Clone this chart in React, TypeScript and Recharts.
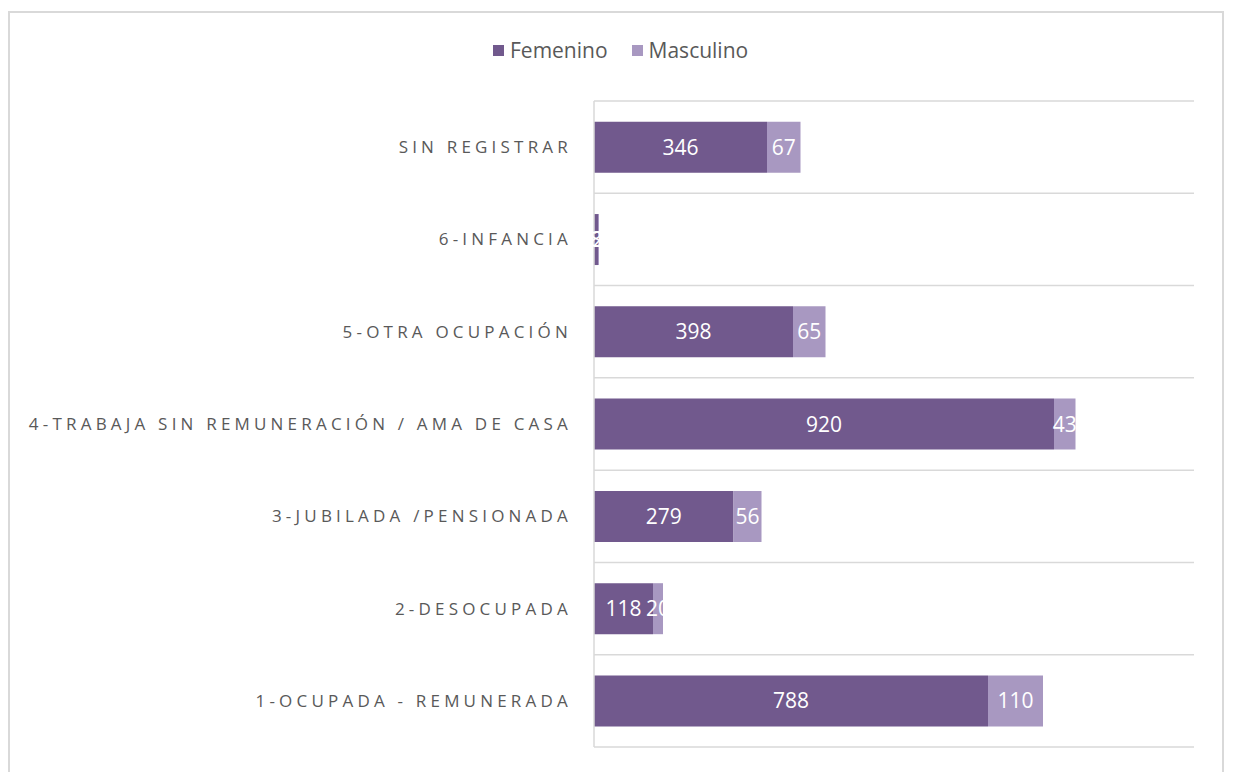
import { BarChart, Bar, XAxis, YAxis, CartesianGrid, LabelList } from "recharts";

const categories = [
  "SIN REGISTRAR",
  "6-INFANCIA",
  "5-OTRA OCUPACIÓN",
  "4-TRABAJA SIN REMUNERACIÓN / AMA DE CASA",
  "3-JUBILADA /PENSIONADA",
  "2-DESOCUPADA",
  "1-OCUPADA - REMUNERADA",
];
const femenino = [346, 8, 398, 920, 279, 118, 788];
const masculino = [67, 2, 65, 43, 56, 20, 110];
const seriesNames = ["Femenino", "Masculino"];
const seriesColors = ["#71598D", "#A898C1"];

const FONT = "'Open Sans', 'Liberation Sans', sans-serif";

const CategoryTick = (props: any) => {
  const { x, y, payload } = props;
  return (
    <text
      x={x}
      y={y}
      dy={6}
      textAnchor="end"
      fill="#595959"
      fontSize={17}
      fontFamily={FONT}
      style={{ letterSpacing: "4.2px" }}
    >
      {payload.value}
    </text>
  );
};

export default function App() {
  const chartData = categories.map((name, i) => ({
    name,
    femenino: femenino[i],
    masculino: masculino[i],
  }));

  return (
    <div style={{ position: "absolute", left: 0, top: 0, width: 1234, height: 772, overflow: "hidden", background: "#fff" }}>
      <div
        style={{
          position: "absolute",
          left: 8,
          top: 11,
          width: 1216,
          height: 800,
          border: "2px solid #d9d9d9",
          boxSizing: "border-box",
        }}
      />
      <div
        style={{
          position: "absolute",
          top: 36,
          left: 493,
          display: "flex",
          gap: 24,
          fontFamily: FONT,
          fontSize: 21,
          color: "#595959",
        }}
      >
        {seriesNames.map((s, i) => (
          <div key={s} style={{ display: "flex", alignItems: "center" }}>
            <span style={{ width: 11, height: 11, background: seriesColors[i], marginRight: 6, display: "inline-block" }} />
            <span>{s}</span>
          </div>
        ))}
      </div>
      <div style={{ position: "absolute", left: 0, top: 0 }}>
        <BarChart
          width={1234}
          height={772}
          data={chartData}
          layout="vertical"
          margin={{ top: 101, right: 40, bottom: 25, left: 0 }}
          barCategoryGap="22.5%"
        >
          <CartesianGrid
            vertical={false}
            stroke="#d9d9d9"
            strokeWidth={1.5}
            horizontalCoordinatesGenerator={({ offset }: any) =>
              Array.from({ length: categories.length + 1 }, (_, i) => offset.top + (i * offset.height) / categories.length)
            }
          />
          <XAxis type="number" domain={[0, 1200]} hide />
          <YAxis
            type="category"
            dataKey="name"
            width={594}
            axisLine={{ stroke: "#d9d9d9", strokeWidth: 1.5 }}
            tickLine={false}
            tickSize={0}
            tickMargin={22}
            tick={<CategoryTick />}
            interval={0}
          />
          <Bar dataKey="femenino" stackId="a" fill={seriesColors[0]} isAnimationActive={false}>
            <LabelList dataKey="femenino" position="center" fill="#fff" fontSize={21} fontFamily={FONT} />
          </Bar>
          <Bar dataKey="masculino" stackId="a" fill={seriesColors[1]} isAnimationActive={false}>
            <LabelList dataKey="masculino" position="center" fill="#fff" fontSize={21} fontFamily={FONT} />
          </Bar>
        </BarChart>
      </div>
    </div>
  );
}
